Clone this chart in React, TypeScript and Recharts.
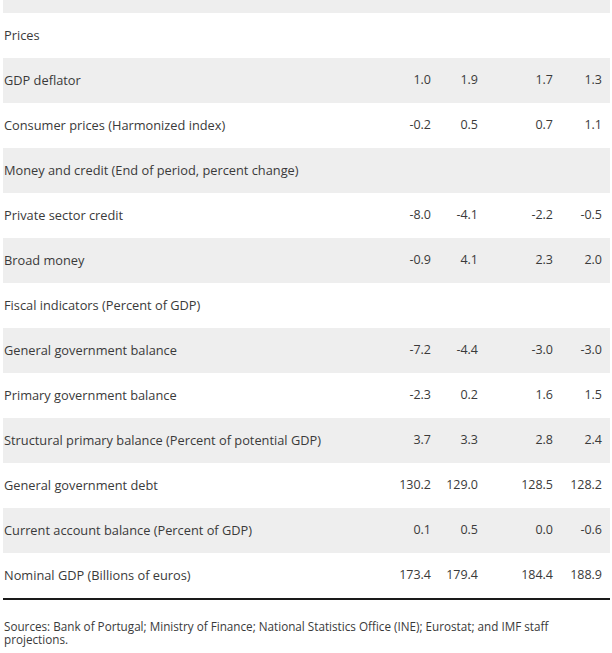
import React from "react";
import { BarChart, Bar, XAxis, YAxis, Cell, LabelList } from "recharts";

const rowLabels = [
  "",
  "Prices",
  "GDP deflator",
  "Consumer prices (Harmonized index)",
  "Money and credit (End of period, percent change)",
  "Private sector credit",
  "Broad money",
  "Fiscal indicators (Percent of GDP)",
  "General government balance",
  "Primary government balance",
  "Structural primary balance (Percent of potential GDP)",
  "General government debt",
  "Current account balance (Percent of GDP)",
  "Nominal GDP (Billions of euros)",
];
const col1 = [null, null, 1.0, -0.2, null, -8.0, -0.9, null, -7.2, -2.3, 3.7, 130.2, 0.1, 173.4];
const col2 = [null, null, 1.9, 0.5, null, -4.1, 4.1, null, -4.4, 0.2, 3.3, 129.0, 0.5, 179.4];
const col3 = [null, null, 1.7, 0.7, null, -2.2, 2.3, null, -3.0, 1.6, 2.8, 128.5, 0.0, 184.4];
const col4 = [null, null, 1.3, 1.1, null, -0.5, 2.0, null, -3.0, 1.5, 2.4, 128.2, -0.6, 188.9];
const sourceNote =
  "Sources: Bank of Portugal; Ministry of Finance; National Statistics Office (INE); Eurostat; and IMF staff projections.";

const data = rowLabels.map((label, i) => ({
  label,
  band: 1,
  c1: col1[i],
  c2: col2[i],
  c3: col3[i],
  c4: col4[i],
}));

const FONT = "'Open Sans', 'Noto Sans', sans-serif";
const TEXT = "#3a3a3a";
const colRight = [428, 475, 550, 599];

const makeValueLabel = (col: number) => (props: any) => {
  const { x, y, height, value } = props;
  if (value === null || value === undefined) return null;
  return (
    <text
      x={Number(x) + colRight[col]}
      y={Number(y) + Number(height) / 2 - 1}
      textAnchor="end"
      dominantBaseline="central"
      fontFamily={FONT}
      fontSize={12.5}
      fill={TEXT}
    >
      {Number(value).toFixed(1)}
    </text>
  );
};

const rowLabel = (props: any) => {
  const { x, y, height, value } = props;
  if (!value) return null;
  return (
    <text
      x={Number(x) + 1}
      y={Number(y) + Number(height) / 2 - 1}
      textAnchor="start"
      dominantBaseline="central"
      fontFamily={FONT}
      fontSize={12.8}
      fill={TEXT}
    >
      {value}
    </text>
  );
};

export default function App() {
  return (
    <div style={{ width: 612, height: 653, position: "relative", overflow: "hidden", background: "#fff" }}>
      <style>{"body{margin:0}"}</style>
      <div style={{ position: "absolute", top: -32, left: 0 }}>
        <BarChart
          width={612}
          height={630}
          data={data}
          layout="vertical"
          barCategoryGap={0}
          margin={{ top: 0, right: 2, left: 3, bottom: 0 }}
        >
          <XAxis type="number" domain={[0, 1]} hide />
          <YAxis type="category" dataKey="label" hide />
          <Bar dataKey="band" isAnimationActive={false}>
            {data.map((_, i) => (
              <Cell key={i} fill={i % 2 === 0 ? "#eeeeee" : "#ffffff"} />
            ))}
            <LabelList dataKey="label" content={rowLabel} />
            <LabelList dataKey="c1" content={makeValueLabel(0)} />
            <LabelList dataKey="c2" content={makeValueLabel(1)} />
            <LabelList dataKey="c3" content={makeValueLabel(2)} />
            <LabelList dataKey="c4" content={makeValueLabel(3)} />
          </Bar>
        </BarChart>
      </div>
      <div style={{ position: "absolute", top: 598, left: 3, width: 607, height: 2, background: "#1a1a1a" }} />
      <div
        style={{
          position: "absolute",
          top: 620,
          left: 4,
          width: 590,
          fontFamily: FONT,
          fontSize: 11.7,
          lineHeight: "13px",
          color: TEXT,
        }}
      >
        {sourceNote}
      </div>
    </div>
  );
}
